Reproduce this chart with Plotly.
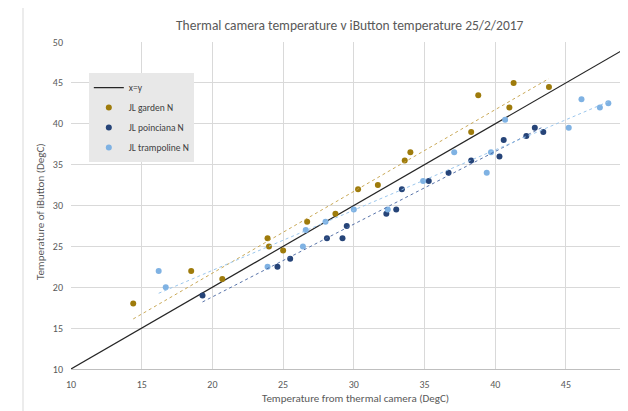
import numpy as np
import plotly.graph_objects as go

# Data
garden_x = [14.4, 18.5, 20.7, 23.9, 24.0, 25.0, 26.7, 28.7, 30.3, 31.7, 33.6, 34.0, 38.3, 38.8, 41.0, 41.3, 43.8]
garden_y = [18, 22, 21, 26, 25, 24.5, 28, 29, 32, 32.5, 35.5, 36.5, 39, 43.5, 42, 45, 44.5]

poinciana_x = [19.3, 24.6, 25.5, 28.1, 29.2, 29.5, 32.3, 33.0, 33.4, 35.3, 36.7, 38.3, 40.3, 40.6, 42.2, 42.8, 43.4]
poinciana_y = [19, 22.5, 23.5, 26, 26, 27.5, 29, 29.5, 32, 33, 34, 35.5, 36, 38, 38.5, 39.5, 39]

trampoline_x = [16.2, 16.7, 23.9, 26.4, 26.6, 28.0, 30.0, 32.4, 34.9, 37.1, 39.4, 39.7, 40.7, 45.2, 46.1, 47.4, 48.0]
trampoline_y = [22, 20, 22.5, 25, 27, 28, 29.5, 29.5, 33, 36.5, 34, 36.5, 40.5, 39.5, 43, 42, 42.5]

identity = [10, 50]

x_ticks = [10, 15, 20, 25, 30, 35, 40, 45]
y_ticks = [10, 15, 20, 25, 30, 35, 40, 45, 50]

FONT = "Carlito, 'Liberation Sans Narrow', 'Open Sans', sans-serif"
GOLD = "#9e7b0b"
DARK = "#264478"
LIGHT = "#7fb2e3"

fig = go.Figure()

fig.add_trace(go.Scatter(x=identity, y=identity, mode="lines", name="x=y",
                         line=dict(color="#262626", width=1.2), legendgroup="a"))

series = [
    ("JL garden N", garden_x, garden_y, GOLD, "rgba(195,160,70,0.9)"),
    ("JL poinciana N", poinciana_x, poinciana_y, DARK, "rgba(70,100,160,0.9)"),
    ("JL trampoline N", trampoline_x, trampoline_y, LIGHT, "rgba(150,195,235,0.95)"),
]
for i, (name, xs, ys, col, tcol) in enumerate(series):
    fig.add_trace(go.Scatter(x=xs, y=ys, mode="markers", name=name,
                             marker=dict(color=col, size=6), legendgroup="g%d" % i))
for name, xs, ys, col, tcol in series:
    m, c = np.polyfit(xs, ys, 1)
    tx = [min(xs), max(xs)]
    fig.add_trace(go.Scatter(x=tx, y=[m * v + c for v in tx], mode="lines",
                             line=dict(color=tcol, width=1, dash="dot"),
                             showlegend=False, hoverinfo="skip"))

# page body has an 8px margin; compensate so the plot area lands at px 71..628 x 42..369
fig.update_layout(
    width=620, height=403,
    margin=dict(l=63, r=0, t=34, b=42),
    paper_bgcolor="white", plot_bgcolor="white",
    font=dict(family=FONT, color="#595959", size=10),
    showlegend=True,
    legend=dict(x=0.032, y=0.905, xanchor="left", yanchor="top",
                bgcolor="#e8e8e8", font=dict(size=9.5, color="#404040"),
                tracegroupgap=1, itemwidth=30,
                borderwidth=0),
    xaxis=dict(range=[10, 49.39], tickvals=x_ticks, showgrid=True,
               gridcolor="#d9d9d9", gridwidth=1, zeroline=False,
               showline=True, linecolor="#bfbfbf", linewidth=1,
               ticks="", ticklabelstandoff=6, tickfont=dict(size=10, color="#595959")),
    yaxis=dict(range=[10, 50], tickvals=y_ticks, showgrid=True,
               gridcolor="#d9d9d9", gridwidth=1, zeroline=False,
               showline=False, ticks="", ticklabelstandoff=7,
               tickfont=dict(size=10, color="#595959")),
    annotations=[
        dict(text="Thermal camera temperature v iButton temperature 25/2/2017",
             xref="paper", yref="paper", x=0.5, y=(369 - 25) / 327,
             xanchor="center", yanchor="middle", showarrow=False,
             font=dict(size=13.5, color="#595959", family=FONT)),
        dict(text="Temperature from thermal camera (DegC)",
             xref="paper", yref="paper", x=(355 - 71) / 557, y=(369 - 398) / 327,
             xanchor="center", yanchor="middle", showarrow=False,
             font=dict(size=11, color="#595959", family=FONT)),
        dict(text="Temperature of iButton (DegC)",
             xref="paper", yref="paper", x=(40 - 71) / 557, y=(369 - 212) / 327,
             xanchor="center", yanchor="middle", showarrow=False, textangle=-90,
             font=dict(size=11, color="#595959", family=FONT)),
    ],
    shapes=[
        dict(type="rect", xref="paper", yref="paper",
             x0=(23 - 71) / 557, x1=1.2, y0=-0.3, y1=(369 - 7) / 327,
             line=dict(color="#d9d9d9", width=1), fillcolor="rgba(0,0,0,0)",
             layer="below"),
    ],
)

fig.write_html("out.html")
